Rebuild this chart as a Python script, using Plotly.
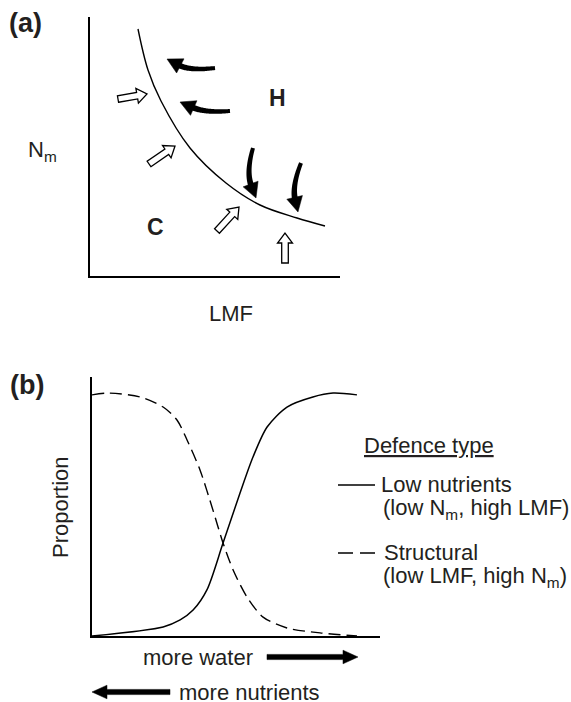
import numpy as np
import plotly.graph_objects as go

# ---------------- data ----------------
# Panel (a): boundary curve between C and H regions (LMF vs N_m, arbitrary units)
lmf_curve = [48, 58, 71, 100, 136, 170, 207, 235]
nm_curve = [247, 206, 175, 128, 93, 71, 58, 50]

# Panel (b): proportion of each defence type along the gradient (0 = left, 1 = right)
gradient_low = [0, 0.247, 0.306, 0.351, 0.399, 0.455, 0.514, 0.559, 0.608, 0.677, 0.767, 0.837, 0.920]
low_nutrients = [0, 0.035, 0.062, 0.100, 0.178, 0.359, 0.552, 0.691, 0.807, 0.884, 0.923, 0.938, 0.931]
gradient_struct = [0, 0.052, 0.167, 0.247, 0.295, 0.330, 0.375, 0.420, 0.455, 0.490, 0.538, 0.594, 0.677, 0.792, 0.920]
structural = [0.931, 0.938, 0.923, 0.884, 0.834, 0.757, 0.641, 0.486, 0.359, 0.255, 0.151, 0.073, 0.031, 0.012, 0.0]

legend_labels = ["Low nutrients", "(low N<sub>m</sub>, high LMF)",
                 "Structural", "(low LMF, high N<sub>m</sub>)"]

# ---------------- layout helpers ----------------
W, H = 571, 702
FONT = "Liberation Sans, Arial, sans-serif"
TXT = "#231f20"


def P(px, py):
    return px / W, 1 - py / H


def path_from(points, close=True):
    pts = [P(x, y) for x, y in points]
    s = "M " + " L ".join(f"{x:.5f},{y:.5f}" for x, y in pts)
    return s + (" Z" if close else "")


shapes = []


def black_arrow(tail, ctrl, tip, w0=2.0, w1=3.0, hl=15, hw=8.0):
    tail, ctrl, tip = map(np.array, (tail, ctrl, tip))
    u = tip - ctrl
    u = u / np.linalg.norm(u)
    base = tip - u * hl
    t = np.linspace(0, 1, 40)
    end = base + u * 2
    pts = ((1 - t)[:, None] ** 2) * tail + (2 * (1 - t) * t)[:, None] * ctrl + (t ** 2)[:, None] * end
    d = np.gradient(pts, axis=0)
    d = d / np.linalg.norm(d, axis=1)[:, None]
    n = np.stack([-d[:, 1], d[:, 0]], axis=1)
    wid = w0 + (w1 - w0) * t
    left = pts + n * wid[:, None]
    right = pts - n * wid[:, None]
    poly = list(map(tuple, left)) + list(map(tuple, right[::-1]))
    shapes.append(dict(type="path", xref="paper", yref="paper", path=path_from(poly),
                       fillcolor="black", line=dict(width=0)))
    nv = np.array([-u[1], u[0]])
    head = [tuple(tip), tuple(base + nv * hw), tuple(base - nv * hw)]
    shapes.append(dict(type="path", xref="paper", yref="paper", path=path_from(head),
                       fillcolor="black", line=dict(color="black", width=0.5)))


def block_arrow(tail, tip, sw=3.3, hw=7.5, hl=10, fill="white", lw=1.3):
    T, S = np.array(tail, float), np.array(tip, float)
    u = (S - T) / np.linalg.norm(S - T)
    n = np.array([-u[1], u[0]])
    B = S - u * hl
    poly = [T + n * sw, B + n * sw, B + n * hw, S, B - n * hw, B - n * sw, T - n * sw]
    shapes.append(dict(type="path", xref="paper", yref="paper",
                       path=path_from([tuple(p) for p in poly]),
                       fillcolor=fill, line=dict(color="black", width=lw)))


# curved black arrows (herbivory pressure) in panel (a)
black_arrow((215, 68), (190, 71), (167, 59))
black_arrow((230, 111), (205, 113), (180, 102))
black_arrow((253, 148), (246, 172), (256, 198))
black_arrow((301, 163), (292, 186), (298, 212))

# open arrows in panel (a)
block_arrow((118, 99), (147, 94))
block_arrow((149, 164), (175, 146))
block_arrow((217, 231), (239, 207))
block_arrow((285, 263), (285, 233))

# gradient arrows below panel (b)
block_arrow((267, 657), (358, 657), sw=2.6, hw=6.8, hl=15, fill="black", lw=0.5)
block_arrow((170, 692), (92, 692), sw=2.6, hw=6.8, hl=15, fill="black", lw=0.5)

# legend line samples
x0, y0 = P(338, 485)
x1, _ = P(375, 485)
shapes.append(dict(type="line", xref="paper", yref="paper", x0=x0, x1=x1, y0=y0, y1=y0,
                   line=dict(color="black", width=1.3)))
x0, y0 = P(338, 553)
x1, _ = P(375, 553)
shapes.append(dict(type="line", xref="paper", yref="paper", x0=x0, x1=x1, y0=y0, y1=y0,
                   line=dict(color="black", width=1.3, dash="15px,7px")))

# ---------------- figure ----------------
fig = go.Figure()
fig.add_trace(go.Scatter(x=lmf_curve, y=nm_curve, mode="lines", xaxis="x", yaxis="y",
                         line=dict(color="black", width=1.4, shape="spline", smoothing=1.0),
                         showlegend=False, hoverinfo="skip"))
fig.add_trace(go.Scatter(x=gradient_low, y=low_nutrients, mode="lines", xaxis="x2", yaxis="y2",
                         line=dict(color="black", width=1.5, shape="spline", smoothing=0.8),
                         showlegend=False, hoverinfo="skip"))
fig.add_trace(go.Scatter(x=gradient_struct, y=structural, mode="lines", xaxis="x2", yaxis="y2",
                         line=dict(color="black", width=1.4, shape="spline", smoothing=0.8,
                                   dash="12px,6px"),
                         showlegend=False, hoverinfo="skip"))

ax_common = dict(showline=True, linecolor="black", linewidth=1.5, showticklabels=False,
                 ticks="", showgrid=False, zeroline=False, fixedrange=True)

ann = []


def text(s, px, py, size=22, bold=False, xanchor="center", angle=0):
    x, y = P(px, py)
    ann.append(dict(text=f"<b>{s}</b>" if bold else s, x=x, y=y, xref="paper", yref="paper",
                    xanchor=xanchor, yanchor="middle", showarrow=False, textangle=angle,
                    font=dict(family=FONT, size=size, color=TXT)))


text("(a)", 7, 23, size=27, bold=True, xanchor="left")
text("(b)", 8, 385, size=27, bold=True, xanchor="left")
text("H", 277, 98, size=23, bold=True)
text("C", 155, 227, size=23, bold=True)
text("N<sub>m</sub>", 26, 151, xanchor="left")
text("LMF", 231, 313)
text("Proportion", 60, 507, angle=-90)
text("<u>Defence type</u>", 362, 445, xanchor="left")
text(legend_labels[0], 379, 484, xanchor="left")
text(legend_labels[1], 381, 509, xanchor="left")
text(legend_labels[2], 382, 552, xanchor="left")
text(legend_labels[3], 381, 577, xanchor="left")
text("more water", 198, 657)
text("more nutrients", 177, 692, xanchor="left")

fig.update_layout(
    width=W, height=H, autosize=False,
    margin=dict(l=0, r=0, t=0, b=0),
    paper_bgcolor="white", plot_bgcolor="white",
    xaxis=dict(domain=[90 / W, 340 / W], range=[0, 250], anchor="y", **ax_common),
    yaxis=dict(domain=[1 - 276 / H, 1 - 17 / H], range=[0, 259], anchor="x", **ax_common),
    xaxis2=dict(domain=[92 / W, 380 / W], range=[0, 1], anchor="y2", **ax_common),
    yaxis2=dict(domain=[1 - 636 / H, 1 - 377 / H], range=[0, 1], anchor="x2", **ax_common),
    shapes=shapes,
    annotations=ann,
    showlegend=False,
)

fig.write_html("out.html", config={"displayModeBar": False},
               post_script="document.body.style.margin='0px';document.body.style.overflow='hidden';")
